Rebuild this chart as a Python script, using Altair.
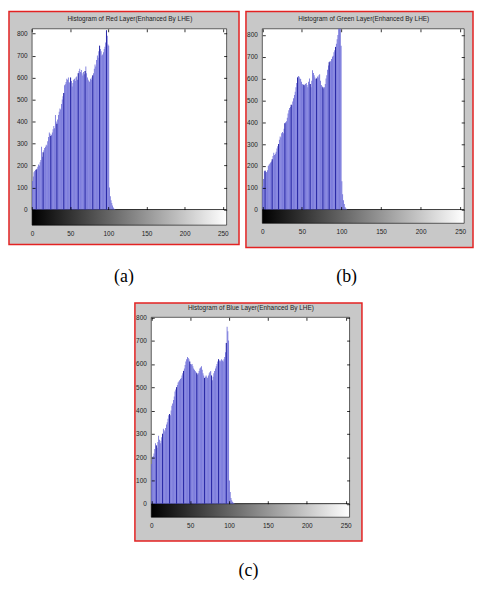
import altair as alt
import pandas as pd

# ---------------- data (counts per gray level 0..109; levels above are empty) ----------------
red_counts = [130, 150, 170, 175, 180, 182, 185, 195, 205, 200,
              215, 225, 285, 240, 260, 270, 280, 285, 295, 290,
              310, 330, 350, 345, 335, 340, 350, 365, 380, 370,
              430, 400, 390, 410, 430, 445, 460, 455, 480, 500,
              515, 530, 565, 570, 580, 595, 590, 600, 580, 575,
              600, 585, 560, 575, 590, 595, 585, 600, 605, 590,
              620, 630, 640, 625, 635, 620, 610, 625, 615, 630,
              650, 620, 600, 590, 585, 580, 595, 590, 600, 610,
              620, 640, 660, 650, 680, 700, 690, 720, 745, 730,
              720, 700, 705, 715, 730, 740, 760, 815, 790, 750,
              745, 100, 60, 42, 30, 18, 9, 4, 2, 0]

green_counts = [105, 140, 175, 178, 170, 172, 180, 200, 205, 210,
                215, 220, 230, 245, 260, 250, 255, 265, 280, 290,
                300, 320, 335, 330, 350, 355, 350, 370, 395, 400,
                405, 420, 440, 455, 465, 470, 480, 478, 495, 510,
                525, 540, 560, 580, 605, 612, 608, 600, 598, 585,
                575, 570, 572, 568, 575, 580, 570, 560, 585, 600,
                575, 560, 590, 638, 625, 615, 605, 598, 600, 610,
                605, 615, 620, 590, 570, 565, 560, 555, 560, 575,
                600, 615, 640, 660, 675, 680, 678, 690, 700, 705,
                720, 730, 745, 760, 780, 800, 835, 840, 840, 750,
                130, 70, 42, 25, 12, 6, 2, 0, 0, 0]

blue_counts = [170, 200, 205, 215, 235, 260, 250, 240, 265, 292,
               275, 260, 270, 285, 300, 322, 315, 310, 325, 340,
               350, 365, 380, 385, 380, 400, 420, 430, 445, 460,
               482, 490, 500, 510, 520, 525, 530, 535, 540, 550,
               560, 570, 580, 595, 610, 620, 630, 625, 620, 610,
               600, 598, 600, 590, 580, 575, 570, 565, 560, 555,
               560, 570, 580, 585, 590, 575, 560, 550, 540, 545,
               550, 545, 540, 550, 560, 565, 570, 550, 530, 545,
               560, 570, 580, 590, 600, 610, 620, 615, 610, 615,
               620, 615, 610, 620, 630, 650, 690, 760, 740, 700,
               100, 50, 25, 15, 8, 4, 2, 0, 0, 0]

# gray levels whose stems look darker in the picture
red_dark = [5, 14, 24, 32, 41, 50, 60, 69, 79, 88, 97]
green_dark = [3, 12, 20, 28, 36, 44, 52, 60, 68, 76, 84, 92]
blue_dark = [6, 14, 23, 32, 41, 49, 58, 68, 77, 86, 96]

titles = ["Histogram of Red Layer(Enhanced By LHE)",
          "Histogram of Green Layer(Enhanced By LHE)",
          "Histogram of Blue Layer(Enhanced By LHE)"]
labels = ["(a)", "(b)", "(c)"]

x_ticks = [0, 50, 100, 150, 200, 250]
y_ticks = [0, 100, 200, 300, 400, 500, 600, 700, 800]
x_limits = [0, 255]
y_limits = [[-71, 822], [-63, 828], [-58, 800]]

# ---------------- style ----------------
GRAY = "#c8c8c8"
RED = "#e32222"
BAR = "#6464d6"
DARK = "#1e1e9e"
SANS = "Liberation Sans, Arial, sans-serif"
SERIF = "Liberation Serif, Times New Roman, serif"
GRAD = alt.LinearGradient(gradient="linear",
                          stops=[alt.GradientStop(color="black", offset=0),
                                 alt.GradientStop(color="white", offset=1)],
                          x1=0, x2=1, y1=0, y2=0)


def panel(counts, dark, title, label, ylim, W, H, left, right, top, zero,
          title_pad, label_offset, label_dx):
    n = len(counts)
    bars = pd.DataFrame({"lo": list(range(n)), "hi": [i + 1 for i in range(n)],
                         "count": counts, "base": [0] * n})
    stems = pd.DataFrame({"x": [d + 0.5 for d in dark],
                          "count": [counts[d] for d in dark],
                          "base": [0] * len(dark)})
    frame = pd.DataFrame({"x0": [x_limits[0]], "x1": [x_limits[1]],
                          "y0": [0], "y1": [ylim[1]], "c0": [ylim[0]]})
    cbot = zero + (zero - top) * (-ylim[0]) / ylim[1]
    xs = alt.Scale(domain=x_limits, range=[left, right], nice=False, zero=False)
    ys = alt.Scale(domain=ylim, range=[cbot, top], nice=False, zero=False, clamp=True)

    lab = dict(labelFont=SANS, labelFontSize=6.5, labelColor="#222",
               labelFlush=False, labelOverlap=False)
    tick = dict(labels=False, domain=False, grid=False, title=None,
                tickSize=3, tickColor="black", tickWidth=0.8, zindex=1)

    white = alt.Chart(frame).mark_rect(fill="white", stroke="black", strokeWidth=0.6).encode(
        x=alt.X("x0:Q", scale=xs, axis=alt.Axis(orient="bottom", offset=-(H - cbot), values=x_ticks,
                                                ticks=False, domain=False, grid=False, title=None,
                                                labelPadding=5, **lab)),
        x2="x1",
        y=alt.Y("y0:Q", scale=ys, axis=alt.Axis(orient="left", offset=-left, values=y_ticks,
                                                ticks=False, domain=False, grid=False, title=None,
                                                labelPadding=5, **lab)),
        y2="y1",
    )
    cbar = alt.Chart(frame).mark_rect(fill=GRAD, stroke="black", strokeWidth=0.6).encode(
        x=alt.X("x0:Q", scale=xs, axis=alt.Axis(orient="top", offset=-top, labels=False, ticks=False,
                                                domain=False, grid=False, title=title,
                                                titleFont=SANS, titleFontSize=6.5,
                                                titleFontWeight="normal", titleColor="#222",
                                                titlePadding=title_pad)),
        x2="x1",
        y=alt.Y("c0:Q", scale=ys, axis=None),
        y2="y0",
    )
    hist = alt.Chart(bars).mark_rect(color=BAR).encode(
        x=alt.X("lo:Q", scale=xs, axis=alt.Axis(orient="top", offset=-zero, values=x_ticks, **tick)),
        x2="hi",
        y=alt.Y("count:Q", scale=ys, axis=alt.Axis(orient="left", offset=-right, values=y_ticks, **tick)),
        y2="base",
    )
    stem = alt.Chart(stems).mark_rule(color=DARK, strokeWidth=0.9).encode(
        x=alt.X("x:Q", scale=xs, axis=alt.Axis(orient="bottom", offset=-(H - top), values=x_ticks, **tick)),
        y=alt.Y("count:Q", scale=ys, axis=alt.Axis(orient="right", offset=-(W - left), values=y_ticks, **tick)),
        y2="base",
    )
    return alt.layer(white, cbar, hist, stem).resolve_axis(
        x="independent", y="independent"
    ).properties(
        width=W, height=H,
        view=alt.ViewBackground(fill=GRAY, stroke=RED, strokeWidth=1.5),
        title=alt.TitleParams(label, orient="bottom", font=SERIF, fontSize=18,
                              fontWeight="normal", color="black", anchor="middle",
                              offset=label_offset, dx=label_dx),
    )


pa = panel(red_counts, red_dark, titles[0], labels[0], y_limits[0],
           232, 235, 23.3, 219.5, 17.5, 199.8, 7.5, 24, 0)
pb = panel(green_counts, green_dark, titles[1], labels[1], y_limits[1],
           229, 238, 16.5, 220.1, 17.5, 199.8, 7.5, 21, -13)
pc = panel(blue_counts, blue_dark, titles[2], labels[2], y_limits[2],
           229, 240, 16.5, 216.5, 14.5, 202.5, 7, 21, 0)

spacer = alt.Chart(pd.DataFrame({"v": [0]})).mark_point(opacity=0).properties(width=126, height=1)

chart = alt.vconcat(
    alt.hconcat(pa, pb, spacing=5),
    alt.hconcat(spacer, pc, spacing=0),
    spacing=13,
).properties(padding=0).configure_view(strokeWidth=0).configure(background="white")

chart.save("out.html", embed_options={"renderer": "svg", "actions": False})
